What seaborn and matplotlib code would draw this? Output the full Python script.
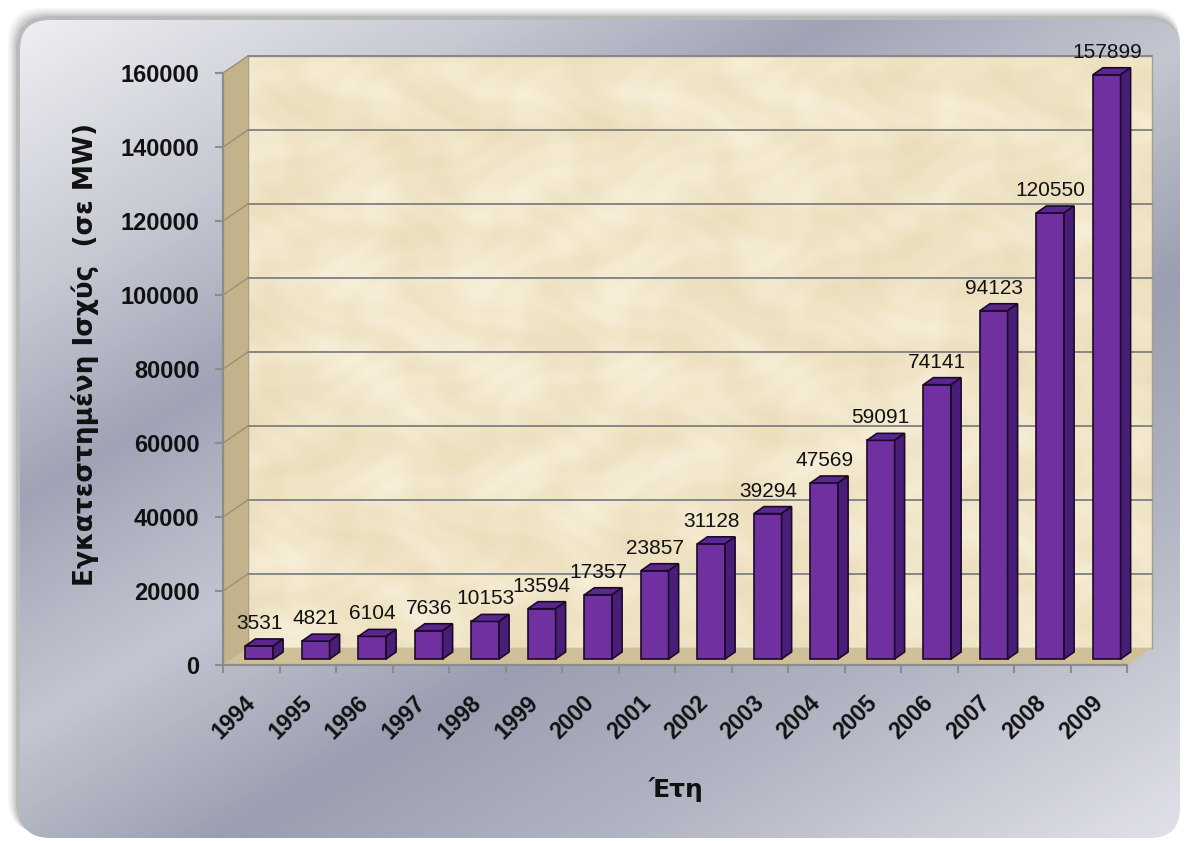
import numpy as np
import matplotlib
matplotlib.use("Agg")
import matplotlib.pyplot as plt
import seaborn as sns
import pandas as pd
from matplotlib.patches import Polygon, FancyBboxPatch
from matplotlib.transforms import offset_copy, IdentityTransform, ScaledTranslation
from matplotlib.colors import LinearSegmentedColormap

# ---- data -------------------------------------------------------------
years = ["1994", "1995", "1996", "1997", "1998", "1999", "2000", "2001",
         "2002", "2003", "2004", "2005", "2006", "2007", "2008", "2009"]
capacity_mw = [3531, 4821, 6104, 7636, 10153, 13594, 17357, 23857,
               31128, 39294, 47569, 59091, 74141, 94123, 120550, 157899]
y_ticks = [0, 20000, 40000, 60000, 80000, 100000, 120000, 140000, 160000]
y_label = "Εγκατεστημένη Ισχύς  (σε MW)"
x_label = "Έτη"

# ---- styling ----------------------------------------------------------
W, H, DPI = 1187, 841, 100
FRONT = "#7030A0"
SIDE = "#4A1E78"
TOP = "#5B2690"
EDGE = "#1A0A2A"
WALL_DEPTH = (25, 17)     # pixel offset of the back wall
BAR_FRONT = (8, 6)        # pixel offset of the bar fronts
BAR_DEPTH = (10, 7)       # pixel depth of each bar

sns.set_theme(style="white")
plt.rcParams["font.family"] = ["Liberation Sans", "DejaVu Sans"]

fig = plt.figure(figsize=(W / DPI, H / DPI), dpi=DPI)
fig.patch.set_facecolor("white")

# background layer in pixel coordinates (origin top-left)
bg = fig.add_axes([0, 0, 1, 1], zorder=0)
bg.set_xlim(0, W)
bg.set_ylim(H, 0)
bg.axis("off")

# soft drop shadow round the panel
for i, a in enumerate([0.05, 0.06, 0.08, 0.10, 0.12]):
    s = 12 - 2 * i
    sh = FancyBboxPatch((20 - s, 20 - s), 1160 + s, 818 + s * 0.5,
                        boxstyle="round,pad=0,rounding_size=34",
                        fc="#404040", ec="none", alpha=a)
    bg.add_patch(sh)

panel = FancyBboxPatch((20, 20), 1160, 818,
                       boxstyle="round,pad=0,rounding_size=30",
                       fc="none", ec="none")
bg.add_patch(panel)

# brushed-metal gradient
gy, gx = np.mgrid[0:H:4, 0:W:4]
u = gx / W + 1.2 * gy / H
metal = LinearSegmentedColormap.from_list("metal", [
    (0.00, "#F2F3F6"), (0.20, "#C6C8D2"), (0.33, "#9FA3B5"),
    (0.48, "#C4C7D1"), (0.63, "#9A9EB0"), (0.78, "#B1B4C2"),
    (1.00, "#E2E3E9")])
img = bg.imshow(u / 2.2, cmap=metal, vmin=0, vmax=1, extent=(0, W, H, 0),
                aspect="auto", interpolation="bilinear", zorder=1)
img.set_clip_path(panel)

# ---- plot axes (front plane) -----------------------------------------
L, T, R, B = 223, 73, 1127, 665
ax = fig.add_axes([L / W, 1 - B / H, (R - L) / W, (B - T) / H], zorder=2)
ax.patch.set_alpha(0)

df = pd.DataFrame({"year": years, "mw": capacity_mw})
sns.barplot(data=df, x="year", y="mw", color=FRONT, saturation=1,
            width=0.49, edgecolor=EDGE, linewidth=1.2, ax=ax, zorder=6)
ax.set_xlim(-0.5, len(years) - 0.5)
ax.set_ylim(0, 160000)

# parchment back wall, left wall and floor
def disp(pts, trans):
    return trans.transform(np.asarray(pts, dtype=float))

corners = disp([(0, 0), (1, 0), (1, 1), (0, 1)], ax.transAxes)
o = np.array(WALL_DEPTH, dtype=float)
back = corners + o

wall_x0, wall_y0 = back[0]
wall_x1, wall_y1 = back[2]
yy, xx = np.mgrid[0:600, 0:900]
tex = (np.sin(xx / 41.0 + 2.3 * np.cos(yy / 37.0)) *
       np.cos(yy / 29.0 + 1.9 * np.sin(xx / 53.0)) +
       0.45 * np.sin(xx / 11.0 + 2.5 * np.sin(yy / 17.0)) *
       np.cos(yy / 8.0 + 2.0 * np.cos(xx / 23.0)))
tex = (tex - tex.min()) / (tex.max() - tex.min())
parch = LinearSegmentedColormap.from_list(
    "parch", ["#EBDDBA", "#F1E5C8", "#F7EFD9"])
bg.imshow(tex, cmap=parch, extent=(wall_x0, wall_x1, H - wall_y0, H - wall_y1),
          aspect="auto", interpolation="bilinear", zorder=2)
bg.add_patch(Polygon([(wall_x0, H - wall_y0), (wall_x1, H - wall_y0),
                      (wall_x1, H - wall_y1), (wall_x0, H - wall_y1)],
                     closed=True, fc="none", ec="#A59F90", lw=1.0, zorder=3))

left_wall = Polygon([corners[0], corners[3], back[3], back[0]], closed=True,
                    transform=IdentityTransform(), fc="#C4B38A", ec="none",
                    clip_on=False, zorder=1)
floor = Polygon([corners[0], corners[1], back[1], back[0]], closed=True,
                transform=IdentityTransform(), fc="#CFC099", ec="none",
                clip_on=False, zorder=1)
ax.add_patch(left_wall)
ax.add_patch(floor)

# gridlines on the back wall and the left wall
back_tr = offset_copy(ax.transData, fig=fig, x=WALL_DEPTH[0], y=WALL_DEPTH[1],
                      units="dots")
for v in y_ticks[1:]:
    ax.plot([-0.5, len(years) - 0.5], [v, v], color="#878787", lw=1.4,
            transform=back_tr, clip_on=False, zorder=3)
    p0 = disp([(-0.5, v)], ax.transData)[0]
    ax.plot([p0[0], p0[0] + o[0]], [p0[1], p0[1] + o[1]], color="#9A8F74",
            lw=1.0, transform=IdentityTransform(), clip_on=False, zorder=3)

# 3-D bars: shift the seaborn fronts, then add top and side faces
front_tr = offset_copy(ax.transData, fig=fig, x=BAR_FRONT[0], y=BAR_FRONT[1],
                       units="dots")
o1 = np.array(BAR_FRONT, dtype=float)
o2 = o1 + np.array(BAR_DEPTH, dtype=float)
for patch in ax.patches:
    if not hasattr(patch, "get_width") or patch.get_height() <= 0:
        continue
    x0, w, h = patch.get_x(), patch.get_width(), patch.get_height()
    patch.set_transform(front_tr)
    patch.set_clip_on(False)
    bl, br, tr, tl = disp([(x0, 0), (x0 + w, 0), (x0 + w, h), (x0, h)],
                          ax.transData)
    top = Polygon([tl + o1, tr + o1, tr + o2, tl + o2], closed=True,
                  transform=IdentityTransform(), fc=TOP, ec=EDGE,
                  lw=1.2, clip_on=False, zorder=6)
    side = Polygon([br + o1, tr + o1, tr + o2, br + o2], closed=True,
                   transform=IdentityTransform(), fc=SIDE, ec=EDGE,
                   lw=1.2, clip_on=False, zorder=6)
    ax.add_patch(top)
    ax.add_patch(side)

# value labels above each bar
label_tr = offset_copy(ax.transData, fig=fig, x=BAR_FRONT[0],
                       y=BAR_FRONT[1] + 17, units="dots")
for i, v in enumerate(capacity_mw):
    ax.text(i, v, f"{v}", transform=label_tr, ha="center", va="baseline",
            fontsize=15, color="#111111", clip_on=False, zorder=8,
            family=["Liberation Sans", "DejaVu Sans"])

# axes, ticks and labels
for s in ["top", "right"]:
    ax.spines[s].set_visible(False)
for s in ["left", "bottom"]:
    ax.spines[s].set_color("#8C8C8C")
    ax.spines[s].set_linewidth(1.6)
    ax.spines[s].set_zorder(4)

ax.set_yticks(y_ticks)
ax.set_yticklabels([str(t) for t in y_ticks], fontsize=17, fontweight="bold",
                   color="#111111")
ax.tick_params(axis="y", length=6, width=1.5, color="#8C8C8C", pad=11,
               direction="out", left=True)

ax.set_xticks(range(len(years)))
ax.set_xticks(np.arange(-0.5, len(years), 1.0), minor=True)
ax.set_xticklabels(years, rotation=45, ha="right", va="top", fontsize=16.5,
                   fontweight="bold", color="#111111")
ax.tick_params(axis="x", which="major", length=0, pad=19)
ax.tick_params(axis="x", which="minor", length=6, width=1.5, color="#8C8C8C",
               direction="out", bottom=True)
shift = ScaledTranslation(9 / DPI, 0, fig.dpi_scale_trans)
for lab in ax.get_xticklabels():
    lab.set_transform(lab.get_transform() + shift)

ax.set_xlabel("")
ax.set_ylabel("")
ax.grid(False)

fig.text(85 / W, 1 - 354 / H, y_label, rotation=90, ha="center", va="center",
         fontsize=19, fontweight="heavy", color="#111111",
         family=["DejaVu Sans"], zorder=5)
fig.text(676 / W, 1 - 790 / H, x_label, ha="center", va="center",
         fontsize=18, fontweight="heavy", color="#111111",
         family=["DejaVu Sans"], zorder=5)

fig.savefig("out.png", dpi=DPI)
